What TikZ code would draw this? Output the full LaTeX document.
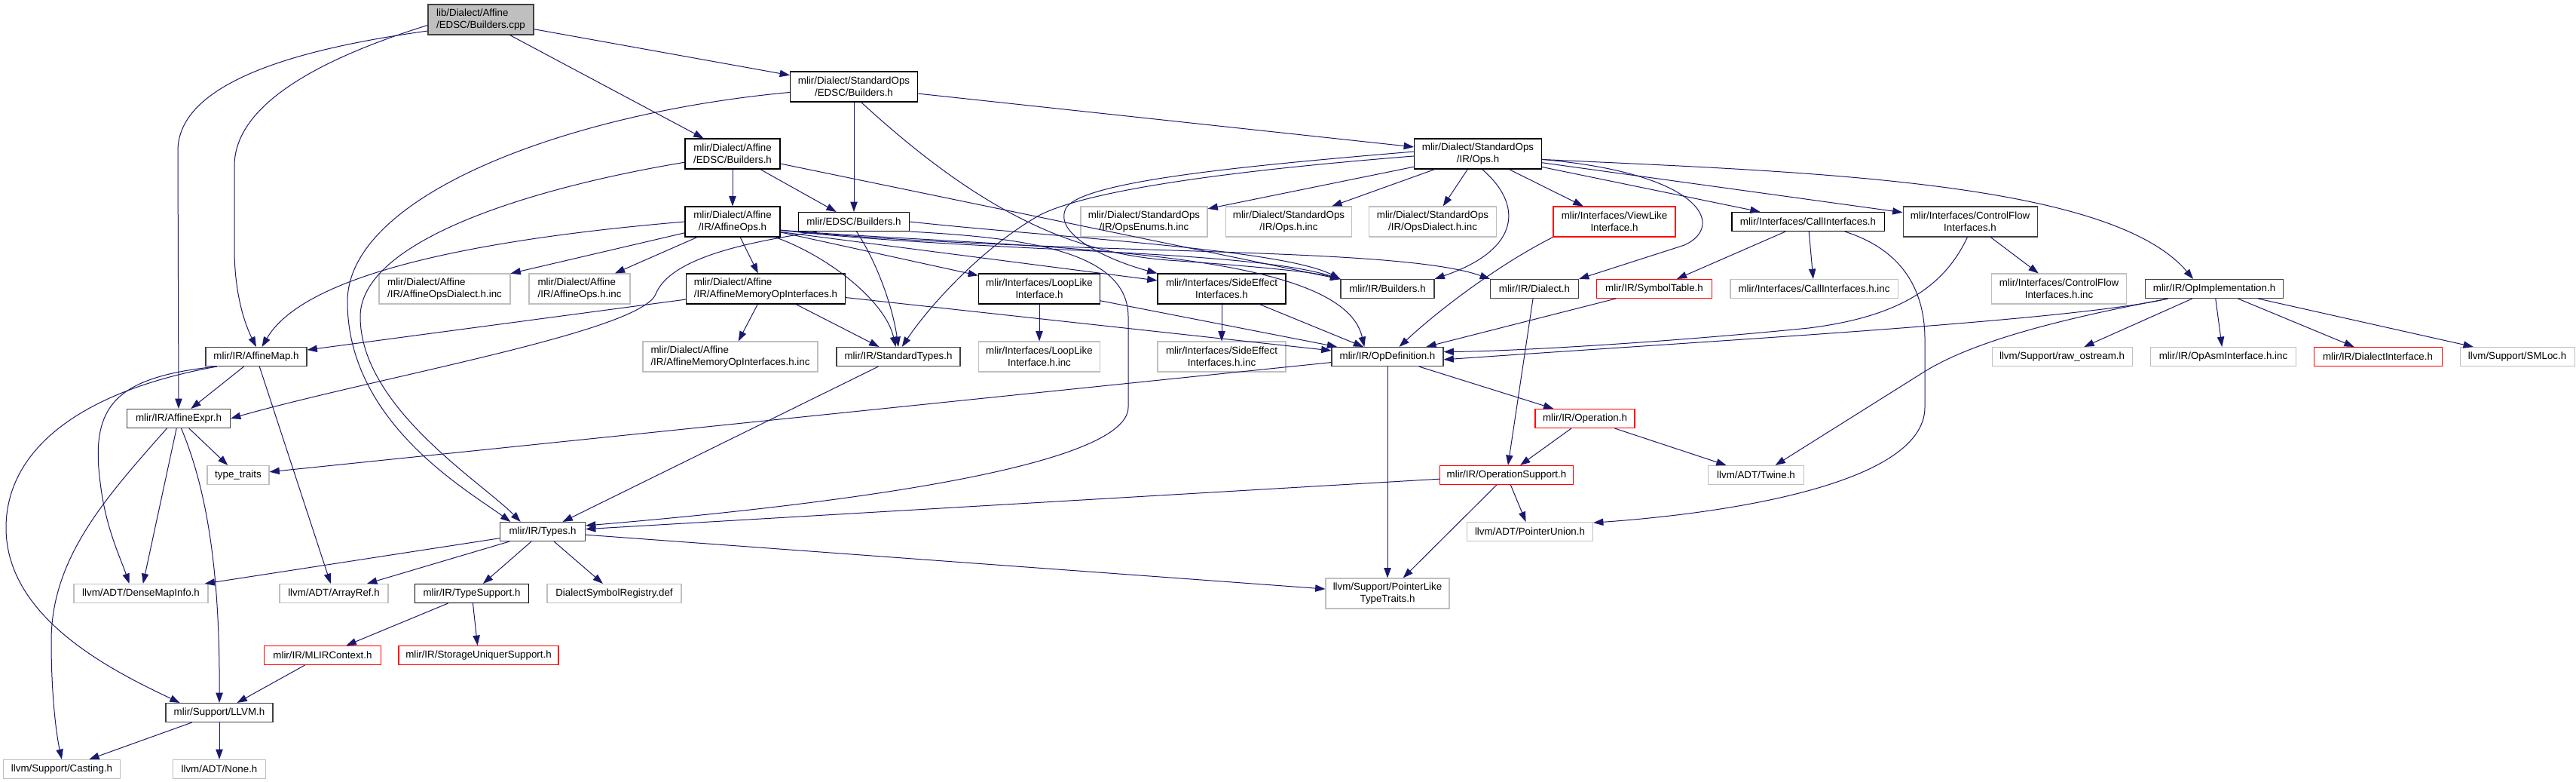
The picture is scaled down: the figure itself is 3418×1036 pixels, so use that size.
\documentclass[tikz,border=0pt]{standalone}
\usepackage{fontspec}
\setmainfont{Liberation Sans}
\usetikzlibrary{arrows.meta}

\definecolor{edgeblue}{HTML}{191970}
\definecolor{boxgray}{HTML}{BFBFBF}
\definecolor{boxred}{HTML}{FF0000}
\definecolor{rootframe}{HTML}{404040}

\tikzset{
  hdr/.style={draw=black, line width=0.8pt, fill=white, align=center, inner sep=2pt,
    minimum height=18.75pt, font=\fontsize{10}{12}\selectfont},
  twoline/.style={minimum height=30pt},
  wd/.style={minimum width=#1*0.75pt},
  ext/.style={hdr, draw=boxgray},
  trunc/.style={hdr, draw=boxred},
  dep/.style={draw=edgeblue, line width=0.75pt, -{Triangle[length=10pt,width=7pt]}}
}

\begin{document}
\begin{tikzpicture}[x=0.75pt, y=-0.75pt]
    \useasboundingbox (0,0) rectangle (3418,1036);
    % oberste Ebene:
    \node[hdr, fill=boxgray, draw=rootframe, twoline, wd=140, align=left] (root) at (638,26) {lib/Dialect/Affine\\/EDSC/Builders.cpp};
    \node[hdr, twoline, wd=169] (sedsc) at (1133,115) {mlir/Dialect/StandardOps\\/EDSC/Builders.h};
    \node[hdr, twoline, wd=126] (aedsc) at (972,204) {mlir/Dialect/Affine\\/EDSC/Builders.h};
    \node[hdr, twoline, wd=169] (ops) at (1961,204) {mlir/Dialect/StandardOps\\/IR/Ops.h};
    % zweite Reihe:
    \node[hdr, twoline, wd=126] (affops) at (972,294) {mlir/Dialect/Affine\\/IR/AffineOps.h};
    \node[hdr, wd=147] (edscb) at (1133,294) {mlir/EDSC/Builders.h};
    \node[ext, twoline, wd=168] (opsenums) at (1518,294) {mlir/Dialect/StandardOps\\/IR/OpsEnums.h.inc};
    \node[ext, twoline, wd=167] (opsinc) at (1710,294) {mlir/Dialect/StandardOps\\/IR/Ops.h.inc};
    \node[ext, twoline, wd=169] (opsdialinc) at (1901,294) {mlir/Dialect/StandardOps\\/IR/OpsDialect.h.inc};
    \node[trunc, twoline, wd=162] (viewlike) at (2142,294) {mlir/Interfaces/ViewLike\\Interface.h};
    \node[hdr, wd=202] (callif) at (2399,294) {mlir/Interfaces/CallInterfaces.h};
    \node[hdr, draw=rootframe, twoline, wd=178] (ctrlflow) at (2614,294) {mlir/Interfaces/ControlFlow\\Interfaces.h};
    % dritte Reihe:
    \node[ext, twoline, wd=174, align=left] (affdialinc) at (590,383) {mlir/Dialect/Affine\\/IR/AffineOpsDialect.h.inc};
    \node[ext, twoline, wd=134, align=left] (affopsinc) at (769,383) {mlir/Dialect/Affine\\/IR/AffineOps.h.inc};
    \node[hdr, twoline, wd=211, align=left] (amoi) at (1016,383) {mlir/Dialect/Affine\\/IR/AffineMemoryOpInterfaces.h};
    \node[hdr, twoline, wd=161] (looplike) at (1379,383) {mlir/Interfaces/LoopLike\\Interface.h};
    \node[hdr, twoline, wd=170] (sideeff) at (1621,383) {mlir/Interfaces/SideEffect\\Interfaces.h};
    \node[hdr, draw=rootframe, wd=124] (irbuilders) at (1841,383) {mlir/IR/Builders.h};
    \node[hdr, draw=rootframe, wd=117] (dialect) at (2036,383) {mlir/IR/Dialect.h};
    \node[trunc, wd=153] (symtab) at (2195,383) {mlir/IR/SymbolTable.h};
    \node[ext, wd=222] (callifinc) at (2407,383) {mlir/Interfaces/CallInterfaces.h.inc};
    \node[ext, twoline, wd=179] (ctrlflowinc) at (2732,383) {mlir/Interfaces/ControlFlow\\Interfaces.h.inc};
    \node[hdr, draw=rootframe, wd=183] (opimpl) at (2938,383) {mlir/IR/OpImplementation.h};
    % vierte Reihe:
    \node[hdr, draw=rootframe, wd=134] (affmap) at (340,473) {mlir/IR/AffineMap.h};
    \node[ext, twoline, wd=232, align=left] (amoiinc) at (969,473) {mlir/Dialect/Affine\\/IR/AffineMemoryOpInterfaces.h.inc};
    \node[hdr, draw=rootframe, wd=164] (stdtypes) at (1192,473) {mlir/IR/StandardTypes.h};
    \node[ext, twoline, wd=161] (looplikeinc) at (1379,473) {mlir/Interfaces/LoopLike\\Interface.h.inc};
    \node[ext, twoline, wd=170] (sideeffinc) at (1621,473) {mlir/Interfaces/SideEffect\\Interfaces.h.inc};
    \node[hdr, draw=rootframe, wd=148] (opdef) at (1841,473) {mlir/IR/OpDefinition.h};
    \node[ext, wd=186] (rawos) at (2736,473) {llvm/Support/raw\_ostream.h};
    \node[ext, wd=193] (opasm) at (2950,473) {mlir/IR/OpAsmInterface.h.inc};
    \node[trunc, wd=170] (dialif) at (3155,473) {mlir/IR/DialectInterface.h};
    \node[ext, wd=152] (smloc) at (3340,473) {llvm/Support/SMLoc.h};
    % untere Reihen:
    \node[hdr, draw=rootframe, wd=137] (affexpr) at (237,555) {mlir/IR/AffineExpr.h};
    \node[trunc, wd=132] (operation) at (2103,555) {mlir/IR/Operation.h};
    \node[ext, wd=82] (typetraits) at (316,630) {type\_traits};
    \node[trunc, wd=177] (opsupport) at (1999,630) {mlir/IR/OperationSupport.h};
    \node[ext, wd=127] (twine) at (2330,630) {llvm/ADT/Twine.h};
    \node[hdr, draw=rootframe, wd=113] (types) at (720,705) {mlir/IR/Types.h};
    \node[ext, wd=167] (ptrunion) at (2030,705) {llvm/ADT/PointerUnion.h};
    \node[ext, wd=178] (densemap) at (187,787) {llvm/ADT/DenseMapInfo.h};
    \node[ext, wd=144] (arrayref) at (443,787) {llvm/ADT/ArrayRef.h};
    \node[hdr, wd=151] (typesupport) at (626,787) {mlir/IR/TypeSupport.h};
    \node[ext, wd=178] (dialsymreg) at (815,787) {DialectSymbolRegistry.def};
    \node[ext, twoline, wd=164] (ptrlike) at (1841,787) {llvm/Support/PointerLike\\TypeTraits.h};
    \node[trunc, wd=155] (mlirctx) at (428,869) {mlir/IR/MLIRContext.h};
    \node[trunc, wd=212] (storage) at (635,869) {mlir/IR/StorageUniquerSupport.h};
    \node[hdr, draw=rootframe, wd=142] (llvm) at (291,945) {mlir/Support/LLVM.h};
    \node[ext, wd=155] (casting) at (82,1020) {llvm/Support/Casting.h};
    \node[ext, wd=123] (none) at (291,1020) {llvm/ADT/None.h};

    % Kanten der Wurzel:
    \draw[dep] (root) -- (sedsc);
    \draw[dep] (root) -- (aedsc);
    \draw[dep] (root.186) .. controls (450,70) and (311,130) .. (311,220) -- (311,330) .. controls (311,400) and (330,440) .. (affmap.north);
    \draw[dep] (root.192) .. controls (430,60) and (236,100) .. (236,200) -- (affexpr.north);
    % StandardOps/EDSC:
    \draw[dep] (sedsc) -- (ops);
    \draw[dep] (sedsc) -- (edscb);
    \draw[dep] (sedsc.185) .. controls (750,150) and (461,260) .. (461,400) .. controls (461,560) and (620,650) .. (types.163);
    \draw[dep] (sedsc.-65) .. controls (1300,280) and (1420,335) .. (1550,345) .. controls (1650,352) and (1740,360) .. (irbuilders.north west);
    % Affine/EDSC:
    \draw[dep] (aedsc) -- (affops);
    \draw[dep] (aedsc) -- (edscb);
    \draw[dep] (aedsc) -- (irbuilders);
    \draw[dep] (aedsc.190) .. controls (700,250) and (478,320) .. (478,420) .. controls (478,540) and (640,640) .. (types.156);
    % AffineOps:
    \draw[dep] (affops) -- (affdialinc);
    \draw[dep] (affops) -- (affopsinc);
    \draw[dep] (affops) -- (amoi);
    \draw[dep] (affops.west) .. controls (600,320) and (400,370) .. (affmap.60);
    \draw[dep] (affops.-20) .. controls (1100,340) and (1175,400) .. (stdtypes.105);
    \draw[dep] (affops) -- (looplike);
    \draw[dep] (affops.-12) -- (sideeff);
    \draw[dep] (affops.-10) .. controls (1300,335) and (1650,330) .. (irbuilders.north west);
    \draw[dep] (affops.-10) .. controls (1400,340) and (1850,325) .. (dialect.north west);
    \draw[dep] (affops.-10) .. controls (1350,330) and (1780,325) .. (opdef.157);
    % EDSC/Builders:
    \draw[dep] (edscb.-165) .. controls (1000,320) and (890,340) .. (870,390) .. controls (850,440) and (500,500) .. (affexpr.east);
    \draw[dep] (edscb.-75) .. controls (1165,350) and (1185,410) .. (stdtypes.north);
    \draw[dep] (edscb.east) .. controls (1400,315) and (1700,330) .. (irbuilders.north west);
    \draw[dep] (edscb.-10) .. controls (1350,315) and (1497,330) .. (1497,420) -- (1497,540) .. controls (1497,620) and (1100,670) .. (types.8);
    % Interfaces:
    \draw[dep] (amoi) -- (amoiinc);
    \draw[dep] (amoi) -- (stdtypes);
    \draw[dep] (amoi) -- (affmap);
    \draw[dep] (amoi) -- (opdef);
    \draw[dep] (looplike) -- (looplikeinc);
    \draw[dep] (looplike) -- (opdef);
    \draw[dep] (sideeff) -- (sideeffinc);
    \draw[dep] (sideeff) -- (opdef);
    \draw[dep] (stdtypes) -- (types);
    % StandardOps/IR/Ops.h:
    \draw[dep] (ops) -- (opsenums);
    \draw[dep] (ops) -- (opsinc);
    \draw[dep] (ops) -- (opsdialinc);
    \draw[dep] (ops) -- (viewlike);
    \draw[dep] (ops) -- (callif);
    \draw[dep] (ops) -- (ctrlflow);
    \draw[dep] (ops.-5) .. controls (2400,228) and (2800,240) .. (opimpl.155);
    \draw[dep] (ops.-75) .. controls (2020,270) and (2020,330) .. (irbuilders.north east);
    \draw[dep] (ops.-5) .. controls (2260,230) and (2290,300) .. (2235,325) -- (dialect.north east);
    \draw[dep] (ops.182) .. controls (1650,225) and (1450,250) .. (1380,285) .. controls (1300,330) and (1230,410) .. (stdtypes.70);
    \draw[dep] (ops.178) .. controls (1650,220) and (1440,240) .. (1415,275) .. controls (1395,310) and (1470,345) .. (sideeff.north west);
    \draw[dep] (viewlike.south west) .. controls (1990,350) and (1910,410) .. (opdef.40);
    \draw[dep] (symtab) -- (opdef);
    \draw[dep] (callif) -- (symtab);
    \draw[dep] (callif) -- (callifinc);
    \draw[dep] (callif.-15) .. controls (2520,330) and (2554,380) .. (2554,450) -- (2554,540) .. controls (2554,640) and (2300,680) .. (ptrunion.8);
    \draw[dep] (ctrlflow) -- (ctrlflowinc);
    \draw[dep] (ctrlflow.-100) .. controls (2580,380) and (2520,420) .. (2400,435) .. controls (2200,455) and (2000,466) .. (opdef.5);
    % OpImplementation:
    \draw[dep] (opimpl) -- (rawos);
    \draw[dep] (opimpl) -- (opasm);
    \draw[dep] (opimpl) -- (dialif);
    \draw[dep] (opimpl) -- (smloc);
    \draw[dep] (opimpl.-168) .. controls (2750,425) and (2300,450) .. (opdef.-3);
    \draw[dep] (opimpl.-168) .. controls (2750,420) and (2620,450) .. (2550,495) -- (twine.27);
    % OpDefinition und Operation:
    \draw[dep] (opdef) -- (typetraits);
    \draw[dep] (opdef) -- (operation);
    \draw[dep] (opdef) -- (ptrlike);
    \draw[dep] (dialect) -- (opsupport);
    \draw[dep] (operation) -- (opsupport);
    \draw[dep] (operation) -- (twine);
    \draw[dep] (opsupport) -- (types);
    \draw[dep] (opsupport) -- (ptrunion);
    \draw[dep] (opsupport) -- (ptrlike);
    % Types:
    \draw[dep] (types) -- (densemap);
    \draw[dep] (types) -- (arrayref);
    \draw[dep] (types) -- (typesupport);
    \draw[dep] (types) -- (dialsymreg);
    \draw[dep] (types) -- (ptrlike);
    \draw[dep] (typesupport) -- (mlirctx);
    \draw[dep] (typesupport) -- (storage);
    \draw[dep] (mlirctx) -- (llvm);
    \draw[dep] (llvm) -- (casting);
    \draw[dep] (llvm) -- (none);
    % AffineMap und AffineExpr:
    \draw[dep] (affmap) -- (affexpr);
    \draw[dep] (affmap) -- (arrayref);
    \draw[dep] (affmap.-166) .. controls (150,500) and (120,540) .. (133,640) .. controls (140,700) and (160,740) .. (densemap.140);
    \draw[dep] (affmap.-166) .. controls (100,520) and (8,600) .. (8,700) .. controls (8,820) and (150,890) .. (llvm.166);
    \draw[dep] (affexpr) -- (typetraits);
    \draw[dep] (affexpr) -- (densemap);
    \draw[dep] (affexpr.-75) .. controls (275,650) and (292,760) .. (llvm.north);
    \draw[dep] (affexpr.-140) .. controls (140,660) and (68,740) .. (68,850) .. controls (68,930) and (76,980) .. (casting.north);
\end{tikzpicture}
\end{document}
